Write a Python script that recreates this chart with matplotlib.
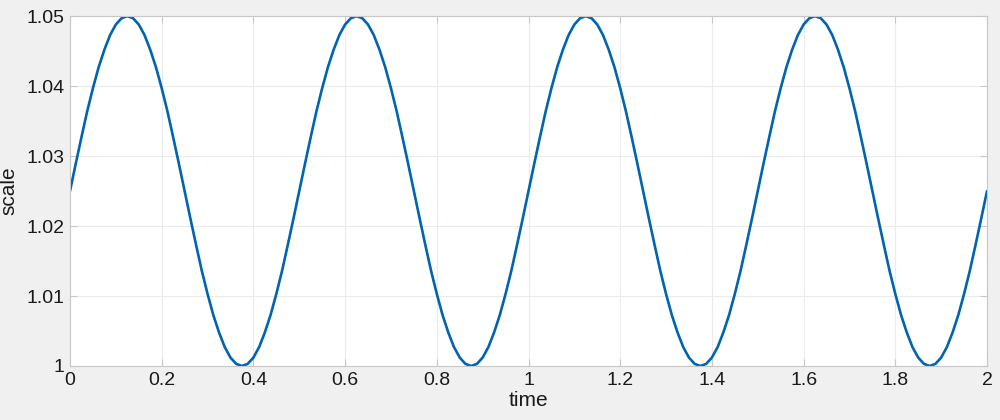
import numpy as np
import matplotlib
matplotlib.use("Agg")
import matplotlib.pyplot as plt

# scale values every 0.0125 time units (t = 0 .. 2)
scale = [
    1.0250, 1.0289, 1.0327, 1.0364, 1.0397, 1.0427, 1.0452, 1.0473, 1.0488, 1.0497,
    1.0500, 1.0497, 1.0488, 1.0473, 1.0452, 1.0427, 1.0397, 1.0364, 1.0327, 1.0289,
    1.0250, 1.0211, 1.0173, 1.0136, 1.0103, 1.0073, 1.0048, 1.0027, 1.0012, 1.0003,
    1.0000, 1.0003, 1.0012, 1.0027, 1.0048, 1.0073, 1.0103, 1.0136, 1.0173, 1.0211,
    1.0250, 1.0289, 1.0327, 1.0364, 1.0397, 1.0427, 1.0452, 1.0473, 1.0488, 1.0497,
    1.0500, 1.0497, 1.0488, 1.0473, 1.0452, 1.0427, 1.0397, 1.0364, 1.0327, 1.0289,
    1.0250, 1.0211, 1.0173, 1.0136, 1.0103, 1.0073, 1.0048, 1.0027, 1.0012, 1.0003,
    1.0000, 1.0003, 1.0012, 1.0027, 1.0048, 1.0073, 1.0103, 1.0136, 1.0173, 1.0211,
    1.0250, 1.0289, 1.0327, 1.0364, 1.0397, 1.0427, 1.0452, 1.0473, 1.0488, 1.0497,
    1.0500, 1.0497, 1.0488, 1.0473, 1.0452, 1.0427, 1.0397, 1.0364, 1.0327, 1.0289,
    1.0250, 1.0211, 1.0173, 1.0136, 1.0103, 1.0073, 1.0048, 1.0027, 1.0012, 1.0003,
    1.0000, 1.0003, 1.0012, 1.0027, 1.0048, 1.0073, 1.0103, 1.0136, 1.0173, 1.0211,
    1.0250, 1.0289, 1.0327, 1.0364, 1.0397, 1.0427, 1.0452, 1.0473, 1.0488, 1.0497,
    1.0500, 1.0497, 1.0488, 1.0473, 1.0452, 1.0427, 1.0397, 1.0364, 1.0327, 1.0289,
    1.0250, 1.0211, 1.0173, 1.0136, 1.0103, 1.0073, 1.0048, 1.0027, 1.0012, 1.0003,
    1.0000, 1.0003, 1.0012, 1.0027, 1.0048, 1.0073, 1.0103, 1.0136, 1.0173, 1.0211,
    1.0250,
]
time = np.linspace(0, 2, len(scale))

xticks = [0, 0.2, 0.4, 0.6, 0.8, 1, 1.2, 1.4, 1.6, 1.8, 2]
xticklabels = ["0", "0.2", "0.4", "0.6", "0.8", "1", "1.2", "1.4", "1.6", "1.8", "2"]
yticks = [1, 1.01, 1.02, 1.03, 1.04, 1.05]
yticklabels = ["1", "1.01", "1.02", "1.03", "1.04", "1.05"]

plt.rcParams["font.family"] = ["Liberation Sans", "DejaVu Sans"]

fig = plt.figure(figsize=(10, 4.2), dpi=100, facecolor="#f0f0f0")
ax = fig.add_axes([0.070, 0.1286, 0.917, 0.833])
ax.set_facecolor("white")
ax.plot(time, scale, color="#0064B0", lw=1.9, solid_joinstyle="round",
        solid_capstyle="round")

ax.set_xlim(0, 2)
ax.set_ylim(1, 1.05)
ax.set_xticks(xticks)
ax.set_xticklabels(xticklabels)
ax.set_yticks(yticks)
ax.set_yticklabels(yticklabels)
ax.grid(True, color="#ebebeb", lw=0.8)
ax.set_axisbelow(True)
for s in ax.spines.values():
    s.set_color("#c8c8c8")
    s.set_linewidth(0.8)
ax.tick_params(direction="in", length=5, color="#c8c8c8", labelsize=14,
               labelcolor="#1a1a1a", top=True, right=True, pad=4)
ax.set_xlabel("time", fontsize=15, color="#1a1a1a", labelpad=2)
ax.set_ylabel("scale", fontsize=15, color="#1a1a1a", labelpad=6)

fig.savefig("out.png", dpi=100, facecolor=fig.get_facecolor())
